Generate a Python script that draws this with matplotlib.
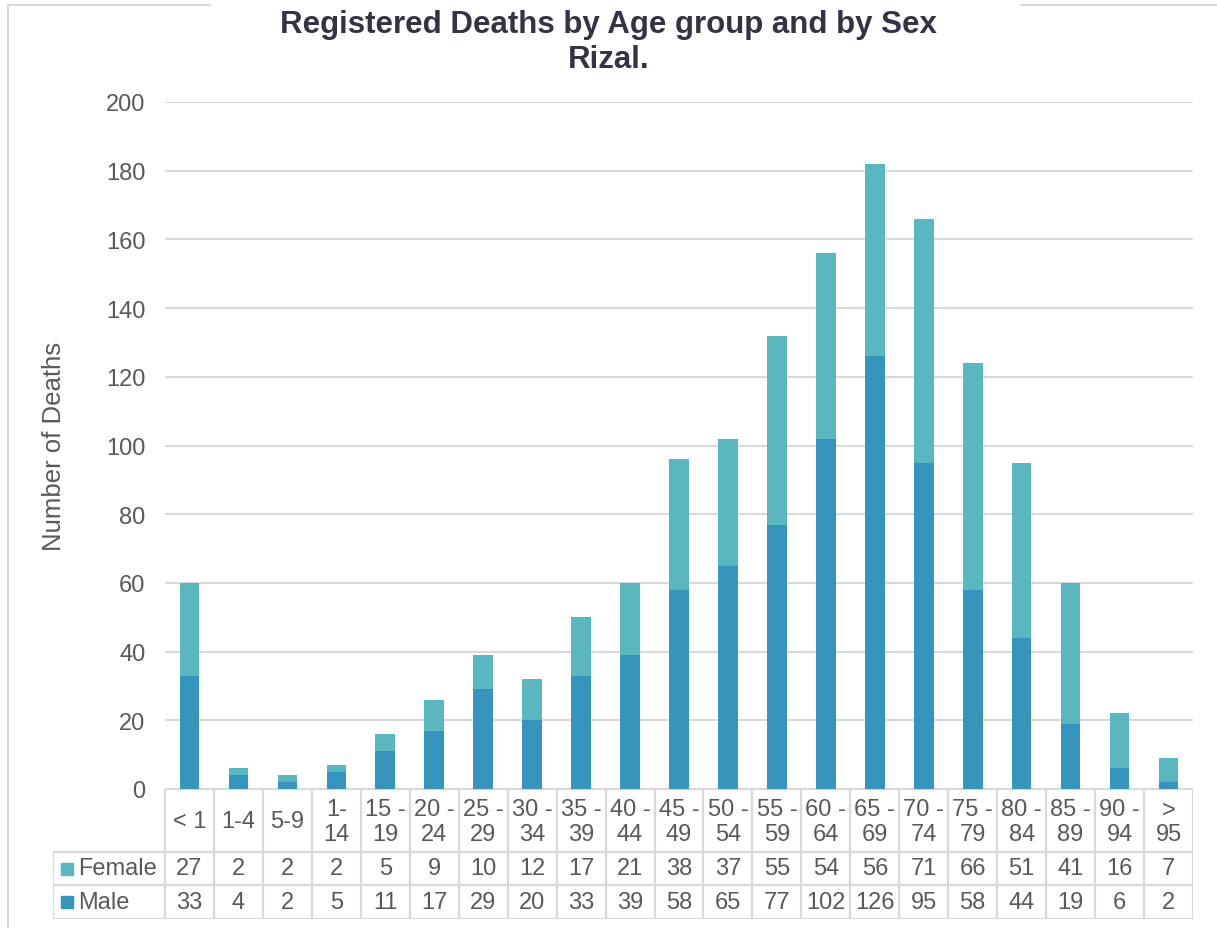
import numpy as np
import matplotlib
matplotlib.use("Agg")
import matplotlib.pyplot as plt
from matplotlib.lines import Line2D

# data
age_groups = ["< 1", "1-4", "5-9", "1-\n14", "15 -\n19", "20 -\n24", "25 -\n29",
              "30 -\n34", "35 -\n39", "40 -\n44", "45 -\n49", "50 -\n54", "55 -\n59",
              "60 -\n64", "65 -\n69", "70 -\n74", "75 -\n79", "80 -\n84", "85 -\n89",
              "90 -\n94", ">\n95"]
female = [27, 2, 2, 2, 5, 9, 10, 12, 17, 21, 38, 37, 55, 54, 56, 71, 66, 51, 41, 16, 7]
male = [33, 4, 2, 5, 11, 17, 29, 20, 33, 39, 58, 65, 77, 102, 126, 95, 58, 44, 19, 6, 2]
yticks = list(range(0, 201, 20))

c_female = "#5ab7c0"
c_male = "#3595bd"
grid_c = "#d9d9d9"
txt_c = "#595959"
fs = 17

plt.rcParams['font.family'] = ['Liberation Sans', 'DejaVu Sans']

W, H = 1217, 929
fig = plt.figure(figsize=(W / 100, H / 100), dpi=100)

# main plot area
x0, x1, ytop, ybot = 165, 1193, 103, 790
ax = fig.add_axes([x0 / W, 1 - ybot / H, (x1 - x0) / W, (ybot - ytop) / H])
x = np.arange(len(age_groups))
ax.bar(x, male, width=0.4, color=c_male, zorder=3)
ax.bar(x, female, width=0.4, bottom=male, color=c_female, zorder=3)
ax.set_xlim(-0.5, len(age_groups) - 0.5)
ax.set_ylim(0, 200)
ax.set_yticks(yticks)
ax.yaxis.grid(True, color=grid_c, linewidth=1.5, zorder=0)
for s in ax.spines.values():
    s.set_visible(False)
ax.set_xticks([])
ax.tick_params(axis='y', length=0, pad=14, labelsize=fs, labelcolor=txt_c)
ax.set_ylabel("Number of Deaths", fontsize=18.5, color=txt_c, labelpad=29)

# data table below
col_w = (x1 - x0) / len(age_groups)
leg_w = (x0 - 53) / col_w
tbot = 920
tax = fig.add_axes([53 / W, 1 - tbot / H, (x1 - 53) / W, (tbot - ybot) / H])
tax.set_xlim(-0.5 - leg_w, len(age_groups) - 0.5)
tax.set_ylim(tbot - ybot, 0)
tax.axis("off")
r0, r1, r2, r3 = 0, 63, 96, 130
lw = 1.6
n = len(age_groups)
tax.hlines(r0, -0.5, n - 0.5, color=grid_c, lw=lw)
for r in (r1, r2, r3):
    tax.hlines(r, -0.5 - leg_w, n - 0.5, color=grid_c, lw=lw)
for k in range(n + 1):
    tax.vlines(k - 0.5, r0, r3, color=grid_c, lw=lw)
tax.vlines(-0.5 - leg_w, r1, r3, color=grid_c, lw=lw)

for i, lab in enumerate(age_groups):
    tax.text(i, (r0 + r1) / 2 + 1, lab, ha="center", va="center", fontsize=fs,
             color=txt_c, linespacing=1.12)
    tax.text(i, (r1 + r2) / 2, str(female[i]), ha="center", va="center",
             fontsize=fs, color=txt_c)
    tax.text(i, (r2 + r3) / 2, str(male[i]), ha="center", va="center",
             fontsize=fs, color=txt_c)

for (ya, yb), name, c in (((r1, r2), "Female", c_female), ((r2, r3), "Male", c_male)):
    xm = -0.5 - leg_w + 14 / col_w
    tax.plot([xm], [(ya + yb) / 2], marker="s", markersize=9, color=c, clip_on=False)
    tax.text(-0.5 - leg_w + 25 / col_w, (ya + yb) / 2, name, ha="left", va="center",
             fontsize=fs, color=txt_c)

# title
fig.text(0.5, 1 - 25 / H, "Registered Deaths by Age group and by Sex",
         ha="center", va="center", fontsize=22.5, fontweight="bold", color="#333344")
fig.text(0.5, 1 - 60 / H, "Rizal.", ha="center", va="center", fontsize=22.5,
         fontweight="bold", color="#333344")

# chart frame
fc = "#d9d9d9"
fig.add_artist(Line2D([8 / W, 8 / W], [0, 1 - 6 / H], color=fc, lw=1.5,
                      transform=fig.transFigure))
fig.add_artist(Line2D([8 / W, 210 / W], [1 - 6 / H, 1 - 6 / H], color=fc, lw=1.5,
                      transform=fig.transFigure))
fig.add_artist(Line2D([1021 / W, 1], [1 - 6 / H, 1 - 6 / H], color=fc, lw=1.5,
                      transform=fig.transFigure))

fig.savefig("out.png", dpi=100, facecolor="white")
